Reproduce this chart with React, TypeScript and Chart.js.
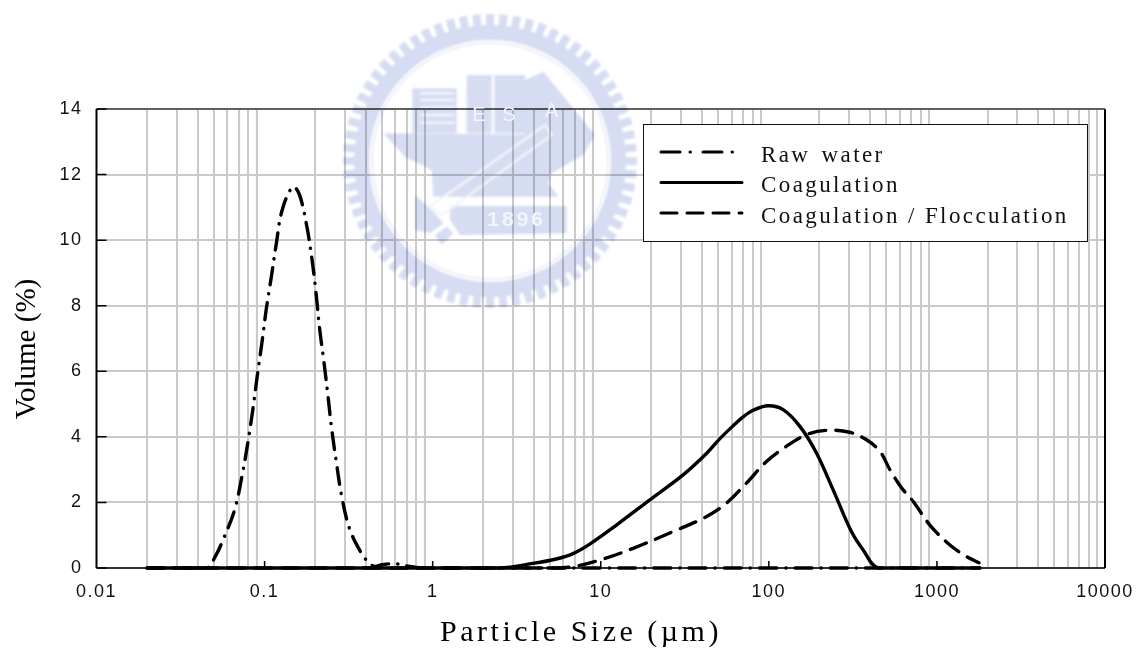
import React, { useEffect, useRef } from "react";
import { Chart, registerables } from "chart.js";

Chart.register(...registerables);

const seriesNames = ["Raw water", "Coagulation", "Coagulation / Flocculation"];
const xTitle = "Particle Size (µm)";
const yTitle = "Volume (%)";
const decades = [0.01, 0.1, 1, 10, 100, 1000, 10000];
const minorMultipliers = [2, 3, 4, 5, 6, 7, 8, 9];

const rawX = [0.02, 0.03, 0.04, 0.0458, 0.0515, 0.056, 0.0663, 0.0733, 0.0795, 0.0851, 0.0904, 0.0964, 0.1023, 0.1096, 0.1175, 0.1274, 0.1475, 0.1614, 0.1787, 0.1923, 0.2032, 0.2125, 0.2254, 0.2382, 0.2506, 0.2673, 0.2871, 0.3206, 0.3767, 0.412, 0.45, 0.5, 0.6, 0.7, 0.8, 0.95, 2, 10, 100, 1000, 1800];
const rawY = [0, 0, 0, 0, 0.4, 0.8, 1.77, 2.79, 3.82, 4.83, 5.85, 6.87, 7.89, 8.87, 9.9, 10.93, 11.63, 11.38, 10.4, 9.34, 8.3, 7.3, 6.29, 5.26, 4.25, 3.23, 2.21, 1.19, 0.45, 0.19, 0.05, 0.1, 0.13, 0.06, 0.02, 0, 0, 0, 0, 0, 0];

const coagX = [0.02, 0.1, 1, 2.5, 3.95, 5.44, 6.84, 8.6, 12.4, 19.6, 30.9, 42.7, 51, 61.4, 70, 80.6, 99, 121.6, 153, 192, 241, 310, 364, 448, 1000, 1800];
const coagY = [0, 0, 0, 0, 0.14, 0.275, 0.44, 0.73, 1.31, 2.08, 2.84, 3.5, 3.94, 4.34, 4.6, 4.81, 4.95, 4.83, 4.32, 3.51, 2.39, 1.11, 0.55, 0, 0, 0];

const flocX = [0.02, 0.1, 1, 5, 6.84, 9.86, 15.6, 26.9, 42.7, 56, 73.6, 96.8, 127, 167.5, 220, 303, 381, 458, 525, 617, 723, 908, 1195, 1500, 1780];
const flocY = [0, 0, 0, 0, 0.04, 0.24, 0.6, 1.11, 1.57, 1.98, 2.59, 3.25, 3.71, 4.07, 4.2, 4.14, 3.91, 3.56, 3.0, 2.44, 2.03, 1.31, 0.7, 0.35, 0.16];

const dashes = [[17, 9, 0.3, 9], [], [17, 10]];
const legendDashes = [[19, 10, 0.5, 12.5], [], [16, 10]];
const xTickValues = decades.flatMap((d) =>
  d === 10000 ? [d] : [d, ...minorMultipliers.map((m) => Number((d * m).toPrecision(3)))]
);

const toPoints = (xs: number[], ys: number[]) => xs.map((x, i) => ({ x, y: ys[i] }));

const INK = "#000000";
const GRID = "#cacaca";
const SERIF = '"Liberation Serif", serif';
const SANS = '"Liberation Sans", sans-serif';
const sx = (z: number) => 335 + z / 3;
const sy = (z: number) => z / 3;

function makeWatermark(w: number, h: number) {
  const off = document.createElement("canvas");
  off.width = w;
  off.height = h;
  const ctx = off.getContext("2d") as CanvasRenderingContext2D;
  const blue = "#d6ddf2";
  const pale = "#f3f5fb";
  const cx = 490;
  const cy = 161;
  const poly = (pts: number[][], fill: string) => {
    ctx.beginPath();
    pts.forEach(([a, b], i) => (i ? ctx.lineTo(sx(a), sy(b)) : ctx.moveTo(sx(a), sy(b))));
    ctx.closePath();
    ctx.fillStyle = fill;
    ctx.fill();
  };
  ctx.fillStyle = "#ffffff";
  ctx.fillRect(0, 0, w, h);
  ctx.strokeStyle = blue;
  ctx.lineWidth = 15;
  ctx.beginPath();
  ctx.arc(cx, cy, 128.5, 0, Math.PI * 2);
  ctx.stroke();
  const teeth = 68;
  ctx.lineWidth = 8;
  for (let i = 0; i < teeth; i++) {
    const a = (i / teeth) * Math.PI * 2;
    ctx.beginPath();
    ctx.moveTo(cx + Math.cos(a) * 134, cy + Math.sin(a) * 134);
    ctx.lineTo(cx + Math.cos(a) * 147, cy + Math.sin(a) * 147);
    ctx.stroke();
  }
  poly([[232, 265], [365, 265], [365, 400], [232, 400]], blue);
  poly([[395, 225], [470, 225], [470, 400], [395, 400]], blue);
  poly([[478, 225], [570, 225], [570, 400], [478, 400]], blue);
  poly([[570, 240], [625, 215], [780, 405], [570, 405]], blue);
  poly([[145, 400], [780, 405], [745, 465], [650, 520], [640, 550], [670, 590], [295, 590], [290, 510], [210, 470]], blue);
  poly([[345, 618], [695, 618], [695, 700], [375, 705], [345, 660]], blue);
  poly([[240, 585], [285, 625], [325, 670], [285, 700], [240, 690]], blue);
  poly([[300, 705], [335, 680], [355, 700], [320, 735]], blue);
  ctx.strokeStyle = pale;
  ctx.lineWidth = 2.5;
  ctx.beginPath();
  ctx.moveTo(sx(285), sy(620));
  ctx.lineTo(sx(630), sy(375));
  ctx.lineTo(sx(650), sy(405));
  ctx.lineTo(sx(320), sy(645));
  ctx.lineTo(sx(285), sy(620));
  [280, 300, 322, 345, 368].forEach((y) => {
    ctx.moveTo(sx(255), sy(y));
    ctx.lineTo(sx(358), sy(y));
  });
  [285, 310, 335, 360, 385].forEach((y) => {
    ctx.moveTo(sx(385), sy(y));
    ctx.lineTo(sx(392), sy(y));
  });
  ctx.stroke();
  ctx.lineWidth = 1.5;
  ctx.strokeStyle = "#e6eaf6";
  ctx.beginPath();
  ctx.arc(cx, cy, 118, 0, Math.PI * 2);
  ctx.stroke();
  return off;
}

const framePlugin = {
  id: "frame",
  beforeDraw(chart: any) {
    const { ctx, width, height } = chart;
    ctx.fillStyle = "#ffffff";
    ctx.fillRect(0, 0, width, height);
    ctx.letterSpacing = "1.5px";
  },
  beforeDatasetsDraw(chart: any) {
    const { ctx, chartArea: a, scales, width, height } = chart;
    ctx.save();
    ctx.letterSpacing = "0px";
    ctx.strokeStyle = INK;
    ctx.lineWidth = 2;
    ctx.beginPath();
    ctx.moveTo(a.left, a.top);
    ctx.lineTo(a.left, a.bottom);
    ctx.moveTo(a.right, a.top);
    ctx.lineTo(a.right, a.bottom);
    ctx.stroke();
    ctx.lineWidth = 1.5;
    ctx.beginPath();
    ctx.moveTo(a.left, a.bottom);
    ctx.lineTo(a.right, a.bottom);
    ctx.stroke();
    ctx.strokeStyle = "#3c3c3c";
    ctx.beginPath();
    ctx.moveTo(a.left, a.top);
    ctx.lineTo(a.right, a.top);
    ctx.stroke();
    ctx.strokeStyle = INK;
    ctx.beginPath();
    decades.slice(1, -1).forEach((d) => {
      const px = scales.x.getPixelForValue(d);
      ctx.moveTo(px, a.bottom);
      ctx.lineTo(px, a.bottom - 7);
    });
    scales.y.ticks.forEach((t: any) => {
      const py = scales.y.getPixelForValue(t.value);
      ctx.moveTo(a.left, py);
      ctx.lineTo(a.left + 10, py);
    });
    ctx.stroke();
    // seal printed over the page: everything beneath it shows through
    ctx.globalCompositeOperation = "multiply";
    ctx.filter = "blur(0.8px)";
    ctx.drawImage(makeWatermark(width, height), 0, 0);
    ctx.filter = "none";
    ctx.globalCompositeOperation = "source-over";
    ctx.fillStyle = "#f3f5fb";
    ctx.textAlign = "center";
    ctx.textBaseline = "middle";
    ctx.font = `20px ${SANS}`;
    ctx.fillText("E", sx(432), sy(345));
    ctx.fillText("S", sx(522), sy(345));
    ctx.fillText("A", sx(650), sy(335));
    ctx.font = `bold 21px ${SANS}`;
    ctx.letterSpacing = "3px";
    ctx.fillText("1896", sx(545), sy(662));
    ctx.restore();
  },
  afterDatasetsDraw(chart: any) {
    const { ctx } = chart;
    ctx.save();
    // axis titles
    ctx.fillStyle = INK;
    ctx.font = `30px ${SERIF}`;
    ctx.textAlign = "center";
    ctx.textBaseline = "alphabetic";
    ctx.letterSpacing = "3.5px";
    ctx.fillText(xTitle, 581, 641);
    ctx.save();
    ctx.translate(35, 349);
    ctx.rotate(-Math.PI / 2);
    ctx.font = `29px ${SERIF}`;
    ctx.letterSpacing = "0px";
    ctx.fillText(yTitle, 0, 0);
    ctx.restore();
    // legend
    ctx.fillStyle = "#ffffff";
    ctx.strokeStyle = "#111111";
    ctx.lineWidth = 1;
    ctx.fillRect(643.5, 124.5, 444, 117);
    ctx.strokeRect(643.5, 124.5, 444, 117);
    const rows = [152, 182.5, 213];
    const baselines = [161.5, 191.5, 222.5];
    chart.data.datasets.forEach((ds: any, i: number) => {
      ctx.strokeStyle = INK;
      ctx.lineWidth = 3;
      ctx.lineCap = "round";
      ctx.setLineDash(legendDashes[i]);
      ctx.beginPath();
      ctx.moveTo(661, rows[i]);
      ctx.lineTo(742, rows[i]);
      ctx.stroke();
      ctx.setLineDash([]);
      ctx.fillStyle = "#111111";
      ctx.font = `23px ${SERIF}`;
      ctx.textAlign = "left";
      ctx.letterSpacing = "2.4px";
      ctx.wordSpacing = i === 0 ? "3px" : "0px";
      ctx.fillText(ds.label, 761, baselines[i]);
    });
    ctx.restore();
  },
};

export default function App() {
  const ref = useRef<HTMLCanvasElement>(null);
  useEffect(() => {
    const pts = [toPoints(rawX, rawY), toPoints(coagX, coagY), toPoints(flocX, flocY)];
    const chart = new Chart(ref.current as HTMLCanvasElement, {
      type: "line",
      data: {
        datasets: seriesNames.map((label, i) => ({
          label,
          data: pts[i],
          borderColor: INK,
          borderWidth: 3.4,
          borderDash: dashes[i],
          borderCapStyle: "round",
          borderJoinStyle: "round",
          pointRadius: 0,
          tension: 0.35,
          clip: false,
          fill: false,
        })),
      } as any,
      options: {
        animation: false,
        responsive: false,
        parsing: false,
        layout: { padding: { top: 109, right: 42, left: 0, bottom: 0 } },
        plugins: { legend: { display: false }, tooltip: { enabled: false }, title: { display: false } },
        scales: {
          x: {
            type: "logarithmic",
            min: 0.01,
            max: 10000,
            afterFit: (s: any) => { s.height = 81; },
            afterBuildTicks: (s: any) => {
              s.ticks = xTickValues.map((value) => ({ value, major: decades.includes(value) }));
            },
            border: { display: false },
            grid: {
              drawTicks: false,
              lineWidth: 2,
              color: (c: any) => (c.tick && decades.includes(c.tick.value) ? "rgba(0,0,0,0)" : GRID),
            },
            ticks: {
              autoSkip: false,
              maxRotation: 0,
              padding: 13,
              color: "#111111",
              font: { family: "Liberation Sans", size: 18 },
              callback: (v: any) => (decades.includes(Number(v)) ? String(v) : ""),
            },
          },
          y: {
            type: "linear",
            min: 0,
            max: 14,
            afterFit: (s: any) => { s.width = 96.5; },
            border: { display: false },
            grid: { drawTicks: false, lineWidth: 2, color: GRID },
            ticks: {
              stepSize: 2,
              padding: 14,
              color: "#111111",
              font: { family: "Liberation Sans", size: 18 },
            },
          },
        },
      } as any,
      plugins: [framePlugin] as any,
    });
    return () => chart.destroy();
  }, []);
  return (
    <div style={{ position: "absolute", left: 0, top: 0, width: 1147, height: 649, overflow: "hidden" }}>
      <canvas ref={ref} width={1147} height={649} style={{ display: "block" }} />
    </div>
  );
}
